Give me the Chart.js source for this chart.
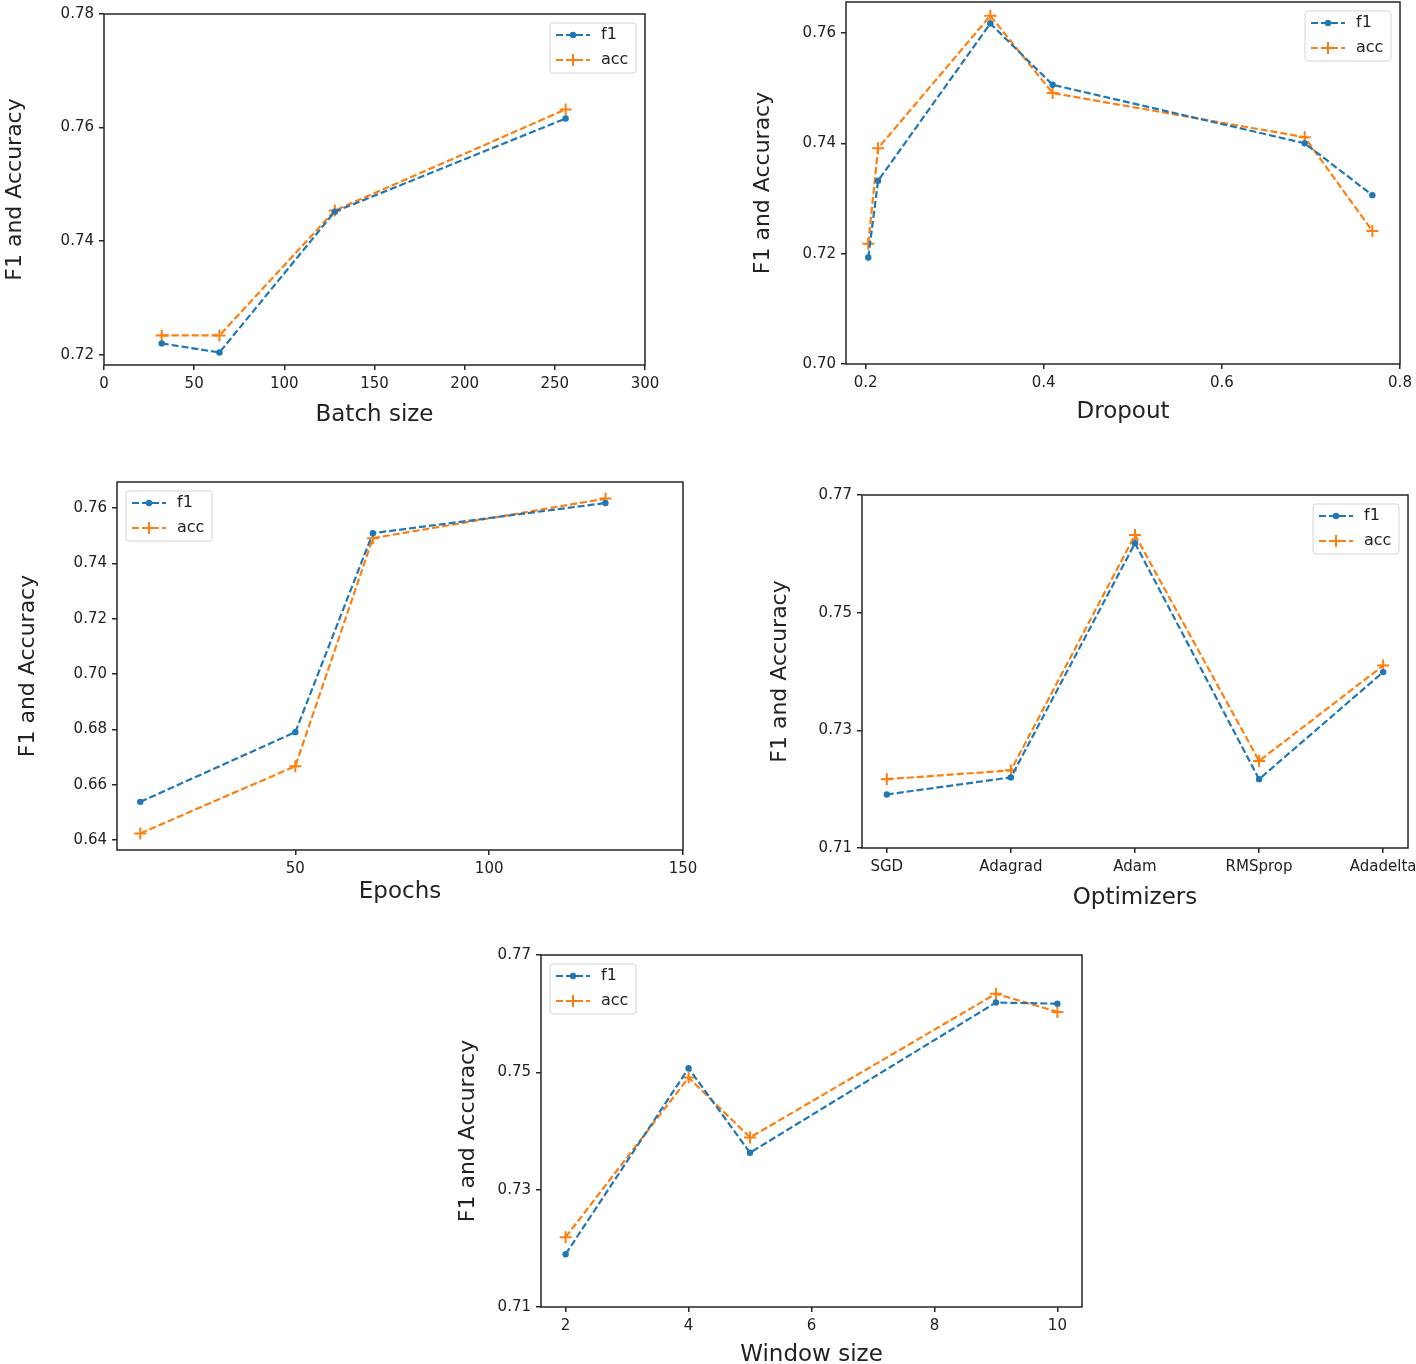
<!DOCTYPE html>
<html>
<head>
<meta charset="utf-8">
<script src="https://cdn.jsdelivr.net/npm/chart.js@4.4.1/dist/chart.umd.min.js"></script>
<style>
  html, body { margin: 0; padding: 0; background: #fff; }
  #page { position: relative; width: 1416px; height: 1364px; overflow: hidden; }
  canvas { position: absolute; }
</style>
</head>
<body>
<div id="page"></div>
<script>
// Batch size
const batchSizes = [32, 64, 128, 256];
const batchF1 = [0.7220, 0.7204, 0.7452, 0.7616];
const batchAcc = [0.7234, 0.7234, 0.7454, 0.7632];
const batchXTicks = [0, 50, 100, 150, 200, 250, 300];
const batchYTicks = [0.72, 0.74, 0.76, 0.78];

// Dropout
const dropouts = [0.203, 0.214, 0.340, 0.410, 0.693, 0.769];
const dropoutF1 = [0.7193, 0.7332, 0.7617, 0.7506, 0.7400, 0.7306];
const dropoutAcc = [0.7218, 0.7391, 0.7631, 0.7491, 0.7411, 0.7241];
const dropoutXTicks = [0.2, 0.4, 0.6, 0.8];
const dropoutYTicks = [0.70, 0.72, 0.74, 0.76];

// Epochs
const epochs = [10, 50, 70, 130];
const epochF1 = [0.6538, 0.6790, 0.7509, 0.7618];
const epochAcc = [0.6424, 0.6667, 0.7491, 0.7634];
const epochXTicks = [50, 100, 150];
const epochYTicks = [0.64, 0.66, 0.68, 0.70, 0.72, 0.74, 0.76];

// Optimizers
const optimizers = ['SGD', 'Adagrad', 'Adam', 'RMSprop', 'Adadelta'];
const optF1 = [0.7191, 0.7220, 0.7618, 0.7217, 0.7399];
const optAcc = [0.7217, 0.7232, 0.7632, 0.7248, 0.7410];
const optYTicks = [0.71, 0.73, 0.75, 0.77];

// Window size
const windowSizes = [2, 4, 5, 9, 10];
const windowF1 = [0.7190, 0.7507, 0.7363, 0.7619, 0.7617];
const windowAcc = [0.7219, 0.7491, 0.7389, 0.7634, 0.7603];
const windowXTicks = [2, 4, 6, 8, 10];
const windowYTicks = [0.71, 0.73, 0.75, 0.77];

const BLUE = '#1f77b4';
const ORANGE = '#ff7f0e';
const FONT = 'DejaVu Sans';
const TEXT = '#222';
const AXIS = '#262626';

// moldura + legenda no estilo matplotlib
const moldura = {
    id: 'moldura',
    afterDraw(chart, args, opts) {
        const { ctx, chartArea: a } = chart;
        ctx.save();
        ctx.strokeStyle = AXIS;
        ctx.lineWidth = 1.5;
        ctx.strokeRect(a.left, a.top, a.right - a.left, a.bottom - a.top);

        const w = 86, h = 50, inset = 9;
        const x = opts.side === 'left' ? a.left + inset : a.right - inset - w;
        const y = a.top + inset;
        ctx.beginPath();
        ctx.roundRect(x, y, w, h, 3);
        ctx.fillStyle = 'rgba(255,255,255,0.8)';
        ctx.fill();
        ctx.lineWidth = 1;
        ctx.strokeStyle = '#d4d4d4';
        ctx.stroke();

        chart.data.datasets.forEach((ds, i) => {
            const cy = y + 12 + i * 25;
            ctx.strokeStyle = ds.borderColor;
            ctx.lineWidth = 2.2;
            ctx.setLineDash([7, 3]);
            ctx.beginPath();
            ctx.moveTo(x + 6, cy);
            ctx.lineTo(x + 40, cy);
            ctx.stroke();
            ctx.setLineDash([]);
            if (ds.pointStyle === 'circle') {
                ctx.fillStyle = ds.borderColor;
                ctx.beginPath();
                ctx.arc(x + 23, cy, 3.2, 0, Math.PI * 2);
                ctx.fill();
            } else {
                ctx.lineWidth = 2;
                ctx.beginPath();
                ctx.moveTo(x + 17, cy); ctx.lineTo(x + 29, cy);
                ctx.moveTo(x + 23, cy - 6); ctx.lineTo(x + 23, cy + 6);
                ctx.stroke();
            }
            ctx.fillStyle = TEXT;
            ctx.font = `16px "${FONT}"`;
            ctx.textBaseline = 'middle';
            ctx.fillText(ds.label, x + 51, cy);
        });
        ctx.restore();
    }
};

function serie(label, xs, ys, color, estilo) {
    return {
        label,
        data: xs.map((x, i) => ({ x, y: ys[i] })),
        borderColor: color,
        backgroundColor: color,
        borderWidth: 2.2,
        borderDash: [7, 3],
        pointStyle: estilo,
        pointRadius: estilo === 'circle' ? 3.2 : 6,
        pointBorderWidth: estilo === 'circle' ? 0 : 2,
        tension: 0,
        fill: false
    };
}

function eixo(cfg, lado) {
    const horizontal = lado === 'x';
    return {
        type: 'linear',
        min: cfg.range[0],
        max: cfg.range[1],
        afterBuildTicks: (s) => { s.ticks = cfg.ticks.map(v => ({ value: v })); },
        afterFit: (s) => {
            if (horizontal) s.height = cfg.size; else s.width = cfg.size;
        },
        ticks: {
            color: TEXT,
            font: { family: FONT, size: 15 },
            padding: 5,
            autoSkip: false,
            maxRotation: 0,
            callback: cfg.format
        },
        grid: { drawOnChartArea: false, drawTicks: true, tickLength: 5, lineWidth: 1.5, color: AXIS },
        border: { display: false },
        title: {
            display: true,
            text: cfg.title,
            color: TEXT,
            font: { family: FONT, size: horizontal ? 23 : 22 },
            padding: horizontal ? { top: 0, bottom: cfg.titlePad } : { top: cfg.titlePad, bottom: 0 }
        }
    };
}

function desenhar(box, area, cfg) {
    const canvas = document.createElement('canvas');
    const w = box.right - box.left, h = box.bottom - box.top;
    canvas.width = w;
    canvas.height = h;
    canvas.style.left = box.left + 'px';
    canvas.style.top = box.top + 'px';
    canvas.style.width = w + 'px';
    canvas.style.height = h + 'px';
    document.getElementById('page').appendChild(canvas);

    cfg.x.size = box.bottom - area.bottom;
    cfg.y.size = area.left - box.left;

    return new Chart(canvas.getContext('2d'), {
        type: 'line',
        data: {
            datasets: [
                serie('f1', cfg.xs, cfg.f1, BLUE, 'circle'),
                serie('acc', cfg.xs, cfg.acc, ORANGE, 'cross')
            ]
        },
        options: {
            responsive: false,
            animation: false,
            devicePixelRatio: 1,
            layout: {
                padding: { left: 0, top: area.top - box.top, right: box.right - area.right, bottom: 0 }
            },
            scales: { x: eixo(cfg.x, 'x'), y: eixo(cfg.y, 'y') },
            plugins: {
                legend: { display: false },
                tooltip: { enabled: false },
                moldura: { side: cfg.legendSide }
            }
        },
        plugins: [moldura]
    });
}

const dec2 = (v) => v.toFixed(2);

desenhar({ left: 0, top: 0, right: 670, bottom: 430 }, { left: 104, top: 14, right: 645, bottom: 365 }, {
    xs: batchSizes, f1: batchF1, acc: batchAcc, legendSide: 'right',
    x: { range: [0, 300], ticks: batchXTicks, title: 'Batch size', titlePad: 1, format: (v) => String(v) },
    y: { range: [0.7182, 0.78], ticks: batchYTicks, title: 'F1 and Accuracy', titlePad: 2, format: dec2 }
});

desenhar({ left: 740, top: -16, right: 1426, bottom: 430 }, { left: 846, top: 2, right: 1400, bottom: 364 }, {
    xs: dropouts, f1: dropoutF1, acc: dropoutAcc, legendSide: 'right',
    x: { range: [0.178, 0.8], ticks: dropoutXTicks, title: 'Dropout', titlePad: 4, format: (v) => v.toFixed(1) },
    y: { range: [0.70, 0.7656], ticks: dropoutYTicks, title: 'F1 and Accuracy', titlePad: 10, format: dec2 }
});

desenhar({ left: 0, top: 464, right: 720, bottom: 910 }, { left: 117, top: 482, right: 683, bottom: 850 }, {
    xs: epochs, f1: epochF1, acc: epochAcc, legendSide: 'left',
    x: { range: [4, 150], ticks: epochXTicks, title: 'Epochs', titlePad: 4, format: (v) => String(v) },
    y: { range: [0.6364, 0.7694], ticks: epochYTicks, title: 'F1 and Accuracy', titlePad: 15, format: dec2 }
});

desenhar({ left: 740, top: 477, right: 1440, bottom: 915 }, { left: 862, top: 495, right: 1408, bottom: 848 }, {
    xs: optimizers.map((_, i) => i), f1: optF1, acc: optAcc, legendSide: 'right',
    x: { range: [-0.2, 4.2], ticks: optimizers.map((_, i) => i), title: 'Optimizers', titlePad: 3, format: (v) => optimizers[v] },
    y: { range: [0.71, 0.77], ticks: optYTicks, title: 'F1 and Accuracy', titlePad: 27, format: dec2 }
});

desenhar({ left: 440, top: 937, right: 1110, bottom: 1372 }, { left: 541, top: 955, right: 1082, bottom: 1307 }, {
    xs: windowSizes, f1: windowF1, acc: windowAcc, legendSide: 'left',
    x: { range: [1.6, 10.4], ticks: windowXTicks, title: 'Window size', titlePad: 3, format: (v) => String(v) },
    y: { range: [0.71, 0.77], ticks: windowYTicks, title: 'F1 and Accuracy', titlePad: 15, format: dec2 }
});
</script>
</body>
</html>
